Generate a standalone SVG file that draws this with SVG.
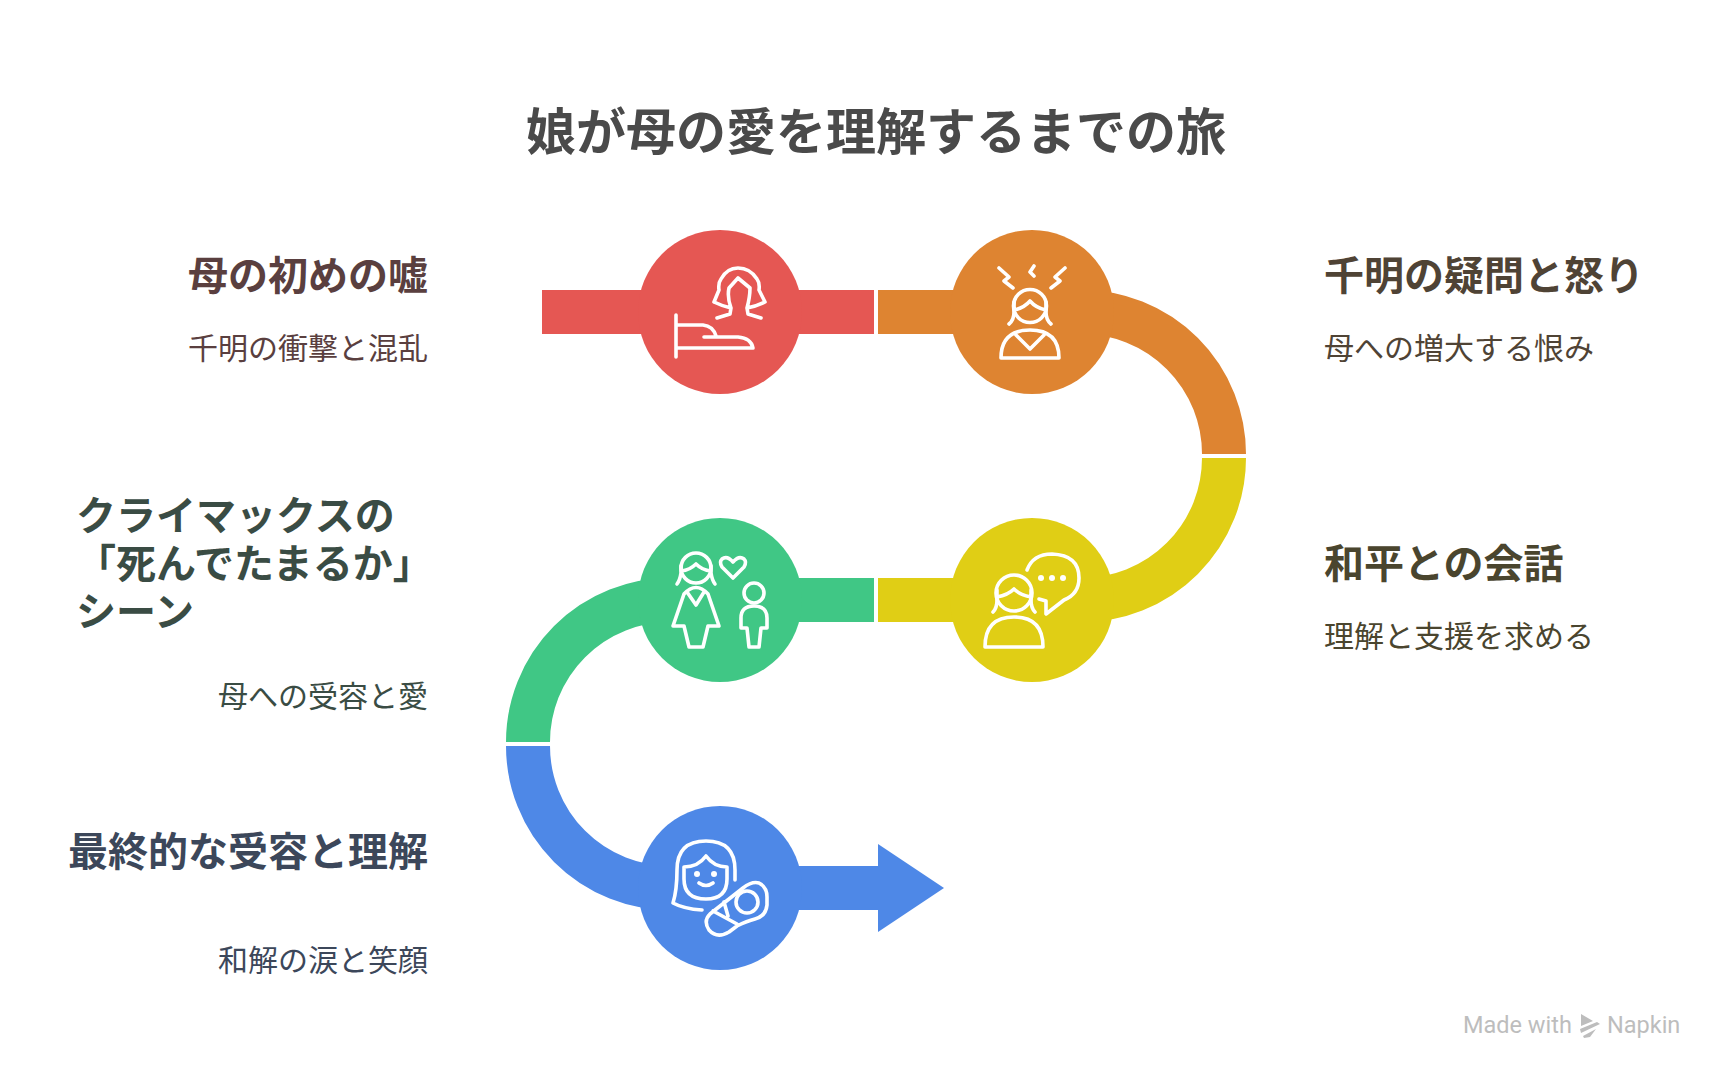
<svg xmlns="http://www.w3.org/2000/svg" width="1729" height="1081" viewBox="0 0 1729 1081">
<style>
text{font-family:"Noto Sans CJK JP","Noto Sans",sans-serif}
.h{font-size:50px;font-weight:700}
.t{font-size:40px;font-weight:700}
.s{font-size:30px;font-weight:400}
.e{text-anchor:end}
.w{font-family:Roboto,sans-serif;font-size:23.500px}
.p{fill:none;stroke-width:44}
.i{fill:none;stroke:#fff;stroke-width:3.600;stroke-linecap:round;stroke-linejoin:round}
.d{fill:#fff}
</style>
<rect width="1729" height="1081" fill="#fff"/>
<text id="title" x="876" y="150" text-anchor="middle" class="h" fill="#4A4A4A">娘が母の愛を理解するまでの旅</text>
<g id="connectors">
<path class="p" stroke="#E55753" d="M542 312H874"/>
<path class="p" stroke="#DE8431" d="M878 312H1082A142 142 0 0 1 1224 454"/>
<path class="p" stroke="#E0CE15" d="M1224 458A142 142 0 0 1 1082 600H878"/>
<path class="p" stroke="#40C785" d="M874 600H670A142 142 0 0 0 528 742"/>
<path class="p" stroke="#4E88E7" d="M528 746A142 142 0 0 0 670 888H880"/>
<path fill="#4E88E7" d="M878 844L944 888L878 932Z"/>
</g>
<g id="node1">
<circle cx="720" cy="312" r="82" fill="#E55753"/>
<path class="i" d="M676 315V357M676 325H703Q713 326 716 336M704 337H738Q751 338 753 348H676"/>
<path class="i" d="M714 302L719 290Q718 283 721 279Q727 268 738 268Q750 268 757 279Q760 283 759 290L765 302Q757 306 747 308M714 302Q722 306 731 308Q727 297 729 288L738 278L750 288Q750 297 747 308M731 308L730 314L717 318M747 308L748 314L761 318"/>
<text class="e t" x="428" y="290" fill="#5A3F3F">母の初めの嘘</text>
<text class="e s" x="428" y="359" fill="#5A3F3F">千明の衝撃と混乱</text>
</g>
<g id="node2">
<circle cx="1032" cy="312" r="82" fill="#DE8431"/>
<path class="i" d="M999 268L1009 277L1004 281L1013 288M1034 266L1030 272L1034 276M1065 268L1055 277L1060 281L1051 288"/>
<circle class="i" cx="1030" cy="306" r="16.500"/>
<path class="i" d="M1014 310Q1024 308 1030 301Q1036 308 1046 310M1014 302V312Q1014 320 1009 324M1046 302V312Q1046 320 1051 324M1001 358Q1001 330 1030 330Q1059 330 1059 358ZM1016 335L1030 349L1044 335"/>
<text class="t" x="1324" y="290" fill="#4F4335">千明の疑問と怒り</text>
<text class="s" x="1324" y="359" fill="#4F4335">母への増大する恨み</text>
</g>
<g id="node3">
<circle cx="1032" cy="600" r="82" fill="#E0CE15"/>
<path class="i" d="M1027 570Q1033 554 1052 554Q1079 555 1079 578Q1079 594 1064 600L1046 614V601L1039 599"/>
<circle class="d" cx="1041" cy="578" r="3"/><circle class="d" cx="1052" cy="578" r="3"/><circle class="d" cx="1063" cy="578" r="3"/>
<circle class="i" cx="1014" cy="593" r="18"/>
<path class="i" d="M997 597Q1008 595 1014 589Q1020 595 1031 597M997 590V600Q997 608 993 612M1031 590V600Q1031 608 1035 612M985 647Q985 617 1014 617Q1043 617 1043 647Z"/>
<text class="t" x="1324" y="578" fill="#4A452E">和平との会話</text>
<text class="s" x="1324" y="647" fill="#4A452E">理解と支援を求める</text>
</g>
<g id="node4">
<circle cx="720" cy="600" r="82" fill="#40C785"/>
<circle class="i" cx="696" cy="568" r="15"/>
<path class="i" d="M681 571Q690 570 696 564Q702 570 711 571M681 566V573Q680 580 677 584M711 566V573Q712 580 715 584M684 594Q696 581 708 594L719 626H708L703 647H689L684 626H673ZM687 592L696 605L704 592M733 578L722 567Q719 562 722 559Q727 555 733 562Q739 555 744 559Q747 562 744 567Z"/>
<circle class="i" cx="754" cy="593" r="10"/>
<path class="i" d="M741 628V618Q741 606 754 606Q767 606 767 618V628H761L759 647H749L747 628Z"/>
<text class="t" x="76" y="530" fill="#3A4C44">クライマックスの</text>
<text class="t" x="76" y="578" fill="#3A4C44">「死んでたまるか」</text>
<text class="t" x="76" y="626" fill="#3A4C44">シーン</text>
<text class="e s" x="428" y="707" fill="#3A4C44">母への受容と愛</text>
</g>
<g id="node5">
<circle cx="720" cy="888" r="82" fill="#4E88E7"/>
<path class="i" d="M735 880V870Q735 841 706 841Q677 841 677 870Q677 890 673 903Q684 909 702 910M684 867Q698 867 706 856Q714 867 727 867V879Q727 899 706 899Q684 899 684 879Z"/>
<circle class="d" cx="697" cy="874" r="3"/><circle class="d" cx="714" cy="874" r="3"/>
<path class="i" d="M699 883Q706 888 713 883M715 910L743 888Q752 881 759 883Q767 887 767 897V905Q766 916 755 919Q747 921 737 926L729 932Q717 939 709 930Q703 921 710 914ZM713 911L737 924M724 902L728 916"/>
<circle class="i" cx="747" cy="902" r="11"/>
<text class="e t" x="428" y="866" fill="#3C475A">最終的な受容と理解</text>
<text class="e s" x="428" y="971" fill="#3C475A">和解の涙と笑顔</text>
</g>
<g id="wm">
<text x="1463" y="1033" class="w" fill="#BDBDBD">Made with</text>
<path fill="#BDBDBD" d="M1581 1014L1593 1021L1581 1026ZM1580 1029L1597 1022L1600 1024L1581 1033ZM1583 1036L1596 1029L1590 1037L1584 1038Z"/>
<text x="1607" y="1033" class="w" fill="#BDBDBD">Napkin</text>
</g>
</svg>
